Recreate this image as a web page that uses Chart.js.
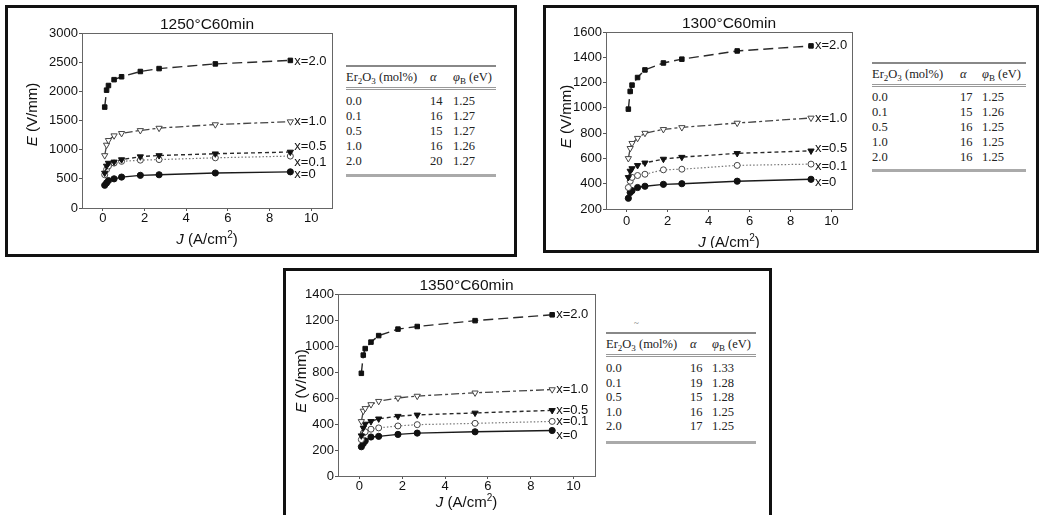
<!DOCTYPE html>
<html><head><meta charset="utf-8">
<script src="https://cdn.jsdelivr.net/npm/chart.js@4/dist/chart.umd.min.js"></script>
<style>
html,body{margin:0;padding:0;background:#fff}
body{width:1040px;height:515px;position:relative;overflow:hidden;font-family:"Liberation Sans",Arial,sans-serif}
.box{position:absolute;border:3px solid #111;box-sizing:border-box}
.cw{position:absolute}
.tbl{position:absolute;font-family:"Liberation Serif","DejaVu Serif",serif;font-size:12.5px;color:#222}
.rule{height:0;border-top:2px solid #888}
.rule.mid{border-top:3px double #999}
.rule.bot{border-top:3px solid #aaa}
.row{position:relative;height:15px;line-height:15px;white-space:nowrap}
.row.hdr{height:20px;line-height:20px}
.row span{position:absolute;top:0}
sub{font-size:9px;line-height:0;vertical-align:-3px}
.mark{position:absolute;font-family:"Liberation Serif",serif;font-size:9px;color:#666}
</style></head>
<body>
<div class="box" style="left:5px;top:5px;width:512px;height:252px"></div>
<div class="box" style="left:543px;top:5px;width:496px;height:248px"></div>
<div class="box" style="left:283px;top:268px;width:489px;height:262px"></div>

<div class="cw" style="left:10px;top:8px;width:332px;height:247px"><canvas id="c1"></canvas></div>
<div class="cw" style="left:550px;top:8px;width:310px;height:240px"><canvas id="c2"></canvas></div>
<div class="cw" style="left:288px;top:272px;width:315px;height:243px"><canvas id="c3"></canvas></div>

<div class="tbl" id="t1" style="left:346px;top:65px;width:150px"></div>
<div class="tbl" id="t2" style="left:872px;top:62px;width:154px"></div>
<div class="tbl" id="t3" style="left:606px;top:332px;width:150px"></div>
<div class="mark" style="left:634px;top:318px">~</div>

<script>
// ---------- DATA ----------
const J = [0.09, 0.18, 0.27, 0.54, 0.9, 1.8, 2.7, 5.4, 9.0];
const seriesLabels = ['x=2.0', 'x=1.0', 'x=0.5', 'x=0.1', 'x=0'];
const xTicks = [0, 2, 4, 6, 8, 10];

// 1250°C 60min
const E1250_x20 = [1730, 2020, 2100, 2200, 2250, 2340, 2390, 2470, 2530];
const E1250_x10 = [900, 1080, 1160, 1240, 1280, 1330, 1370, 1430, 1480];
const E1250_x05 = [600, 720, 770, 790, 830, 880, 900, 930, 960];
const E1250_x01 = [570, 660, 720, 770, 800, 820, 830, 860, 890];
const E1250_x00 = [390, 430, 470, 500, 530, 560, 570, 600, 620];

// 1300°C 60min
const E1300_x20 = [990, 1130, 1180, 1240, 1300, 1355, 1385, 1450, 1490];
const E1300_x10 = [600, 680, 720, 760, 800, 830, 845, 880, 920];
const E1300_x05 = [450, 500, 520, 545, 565, 595, 610, 640, 660];
const E1300_x01 = [370, 420, 450, 465, 475, 510, 515, 545, 555];
const E1300_x00 = [285, 330, 345, 370, 380, 395, 400, 420, 435];

// 1350°C 60min
const E1350_x20 = [790, 930, 980, 1030, 1080, 1130, 1150, 1195, 1240];
const E1350_x10 = [420, 500, 520, 550, 575, 600, 615, 640, 665];
const E1350_x05 = [310, 370, 400, 420, 440, 460, 470, 485, 505];
const E1350_x01 = [280, 330, 340, 360, 370, 385, 395, 405, 420];
const E1350_x00 = [225, 250, 270, 300, 305, 320, 330, 340, 350];

// tables
const tblConc = ['0.0', '0.1', '0.5', '1.0', '2.0'];
const alpha1250 = ['14', '16', '15', '16', '20'];
const phi1250 = ['1.25', '1.27', '1.27', '1.26', '1.27'];
const alpha1300 = ['17', '15', '16', '16', '16'];
const phi1300 = ['1.25', '1.26', '1.25', '1.25', '1.25'];
const alpha1350 = ['16', '19', '15', '16', '17'];
const phi1350 = ['1.33', '1.28', '1.28', '1.25', '1.25'];

// ---------- STYLE ----------
const seriesStyle = [
  {pointStyle:'rect', filled:true, dash:[10,5], color:'#2a2a2a', radius:3.2, rot:0, lw:1.4},
  {pointStyle:'triangle', filled:false, dash:[8,3,3,3], color:'#444', radius:3.6, rot:180, lw:1.3},
  {pointStyle:'triangle', filled:true, dash:[4,3], color:'#2a2a2a', radius:3.6, rot:180, lw:1.4},
  {pointStyle:'circle', filled:false, dash:[1.5,2], color:'#777', radius:3, rot:0, lw:1.2},
  {pointStyle:'circle', filled:true, dash:[], color:'#1a1a1a', radius:3.1, rot:0, lw:1.4},
];
const FONT = '"Liberation Sans", Arial, sans-serif';

const deco = {
  id:'deco',
  afterDraw(chart, args, o){
    const {ctx, chartArea:a} = chart;
    ctx.save();
    ctx.strokeStyle = '#666'; ctx.lineWidth = 1;
    ctx.strokeRect(Math.round(a.left)+0.5, Math.round(a.top)+0.5, Math.round(a.right-a.left), Math.round(a.bottom-a.top));
    ctx.fillStyle = '#111';
    // title
    ctx.font = '15.5px ' + FONT; ctx.textAlign = 'center'; ctx.textBaseline = 'alphabetic';
    ctx.fillText(o.title, (a.left+a.right)/2, a.top - 4);
    // y title: E (V/mm)
    ctx.save();
    ctx.translate(o.yTitleX, (a.top+a.bottom)/2 + o.yTitleDy);
    ctx.rotate(-Math.PI/2);
    ctx.textBaseline = 'middle'; ctx.textAlign = 'left';
    ctx.font = 'italic 15px ' + FONT; const w1 = ctx.measureText('E').width;
    ctx.font = '15px ' + FONT; const w2 = ctx.measureText(' (V/mm)').width;
    let x0 = -(w1+w2)/2;
    ctx.font = 'italic 15px ' + FONT; ctx.fillText('E', x0, 0);
    ctx.font = '15px ' + FONT; ctx.fillText(' (V/mm)', x0+w1, 0);
    ctx.restore();
    // x title: J (A/cm2)
    const yb = a.bottom + o.xTitleDy;
    ctx.textBaseline = 'middle'; ctx.textAlign = 'left';
    ctx.font = 'italic 15px ' + FONT; const a1 = ctx.measureText('J').width;
    ctx.font = '15px ' + FONT; const a2 = ctx.measureText(' (A/cm').width;
    ctx.font = '10px ' + FONT; const a3 = ctx.measureText('2').width;
    ctx.font = '15px ' + FONT; const a4 = ctx.measureText(')').width;
    let xs = (a.left+a.right)/2 - (a1+a2+a3+a4)/2;
    ctx.font = 'italic 15px ' + FONT; ctx.fillText('J', xs, yb); xs += a1;
    ctx.font = '15px ' + FONT; ctx.fillText(' (A/cm', xs, yb); xs += a2;
    ctx.font = '10px ' + FONT; ctx.fillText('2', xs, yb-5); xs += a3;
    ctx.font = '15px ' + FONT; ctx.fillText(')', xs, yb);
    // series labels
    ctx.font = '13px ' + FONT; ctx.textBaseline = 'middle'; ctx.textAlign = 'left';
    chart.data.datasets.forEach((ds, i) => {
      const pts = chart.getDatasetMeta(i).data;
      const p = pts[pts.length-1];
      ctx.fillText(ds.label, p.x + o.labelDx, p.y + o.labelDy[i]);
    });
    ctx.restore();
  }
};

function build(id, series, cfg){
  const datasets = series.map((arr, i) => {
    const s = seriesStyle[i];
    return {
      label: seriesLabels[i],
      data: J.map((j, k) => ({x:j, y:arr[k]})),
      borderColor: s.color, borderWidth: s.lw, borderDash: s.dash,
      pointStyle: s.pointStyle, pointRotation: s.rot, pointRadius: s.radius,
      pointBackgroundColor: s.filled ? '#111' : '#fff', pointBorderColor: s.filled ? '#111' : '#444',
      pointBorderWidth: 1, tension: 0, fill: false
    };
  });
  new Chart(document.getElementById(id), {
    type: 'scatter',
    data: {datasets},
    options: {
      responsive: true, maintainAspectRatio: false, animation: false,
      showLine: true,
      layout: {padding: {top: cfg.padTop, right: cfg.padRight, left: 0, bottom: 0}},
      plugins: {legend: {display:false}, tooltip: {enabled:false}, deco: cfg.deco},
      scales: {
        x: {
          type: 'linear', min: -1, max: 11,
          afterBuildTicks: ax => { ax.ticks = xTicks.map(v => ({value:v})); },
          afterFit: sc => { sc.height = cfg.xH; },
          grid: {display:true, drawOnChartArea:false, drawTicks:true, tickLength:3, color:'#555'},
          border: {display:true, color:'#666'},
          ticks: {color:'#111', font:{family:FONT, size:13}, padding:cfg.xPad, maxRotation:0, callback: v => String(v)}
        },
        y: {
          type: 'linear', min: cfg.yMin, max: cfg.yMax,
          ticks: {stepSize: cfg.yStep, color:'#111', font:{family:FONT, size:13}, padding:1, callback: v => String(v)},
          afterFit: sc => { sc.width = cfg.yW; },
          grid: {display:true, drawOnChartArea:false, drawTicks:true, tickLength:3, color:'#555'},
          border: {display:true, color:'#666'}
        }
      }
    },
    plugins: [deco]
  });
}

build('c1', [E1250_x20, E1250_x10, E1250_x05, E1250_x01, E1250_x00], {
  yMin:0, yMax:3000, yStep:500, padTop:25, padRight:10, xH:47, yW:72, xPad:0,
  deco:{title:'1250°C60min', yTitleX:23, yTitleDy:-6, xTitleDy:32, labelDx:4, labelDy:[1,0,-6,6,3]}
});
build('c2', [E1300_x20, E1300_x10, E1300_x05, E1300_x01, E1300_x00], {
  yMin:200, yMax:1600, yStep:200, padTop:24, padRight:8, xH:39, yW:56, xPad:2,
  deco:{title:'1300°C60min', yTitleX:17, yTitleDy:-4, xTitleDy:34, labelDx:4, labelDy:[0,0,-2,2,3]}
});
build('c3', [E1350_x20, E1350_x10, E1350_x05, E1350_x01, E1350_x00], {
  yMin:0, yMax:1400, yStep:200, padTop:22, padRight:8, xH:39, yW:50, xPad:0,
  deco:{title:'1350°C60min', yTitleX:14, yTitleDy:-4, xTitleDy:27, labelDx:4, labelDy:[0,0,0,0,5]}
});

// ---------- TABLES ----------
function table(id, alpha, phi, cols, padT, padB, rowH){
  const el = document.getElementById(id);
  let h = '<div class="rule"></div>';
  h += `<div class="row hdr"><span style="left:0">Er<sub>2</sub>O<sub>3</sub> (mol%)</span><span style="left:${cols[0]}px"><i>α</i></span><span style="left:${cols[1]}px"><i>φ</i><sub>B</sub> (eV)</span></div>`;
  h += '<div class="rule mid"></div>';
  h += `<div style="height:${padT}px"></div>`;
  tblConc.forEach((c, i) => {
    h += `<div class="row" style="height:${rowH}px;line-height:${rowH}px"><span style="left:0">${c}</span><span style="left:${cols[0]}px">${alpha[i]}</span><span style="left:${cols[1]}px">${phi[i]}</span></div>`;
  });
  h += `<div style="height:${padB}px"></div>`;
  h += '<div class="rule bot"></div>';
  el.innerHTML = h;
}
table('t1', alpha1250, phi1250, [84,107], 4, 5, 15);
table('t2', alpha1300, phi1300, [88,110], 3, 4, 15);
table('t3', alpha1350, phi1350, [84,106], 4, 7, 14.5);
</script>
</body></html>
